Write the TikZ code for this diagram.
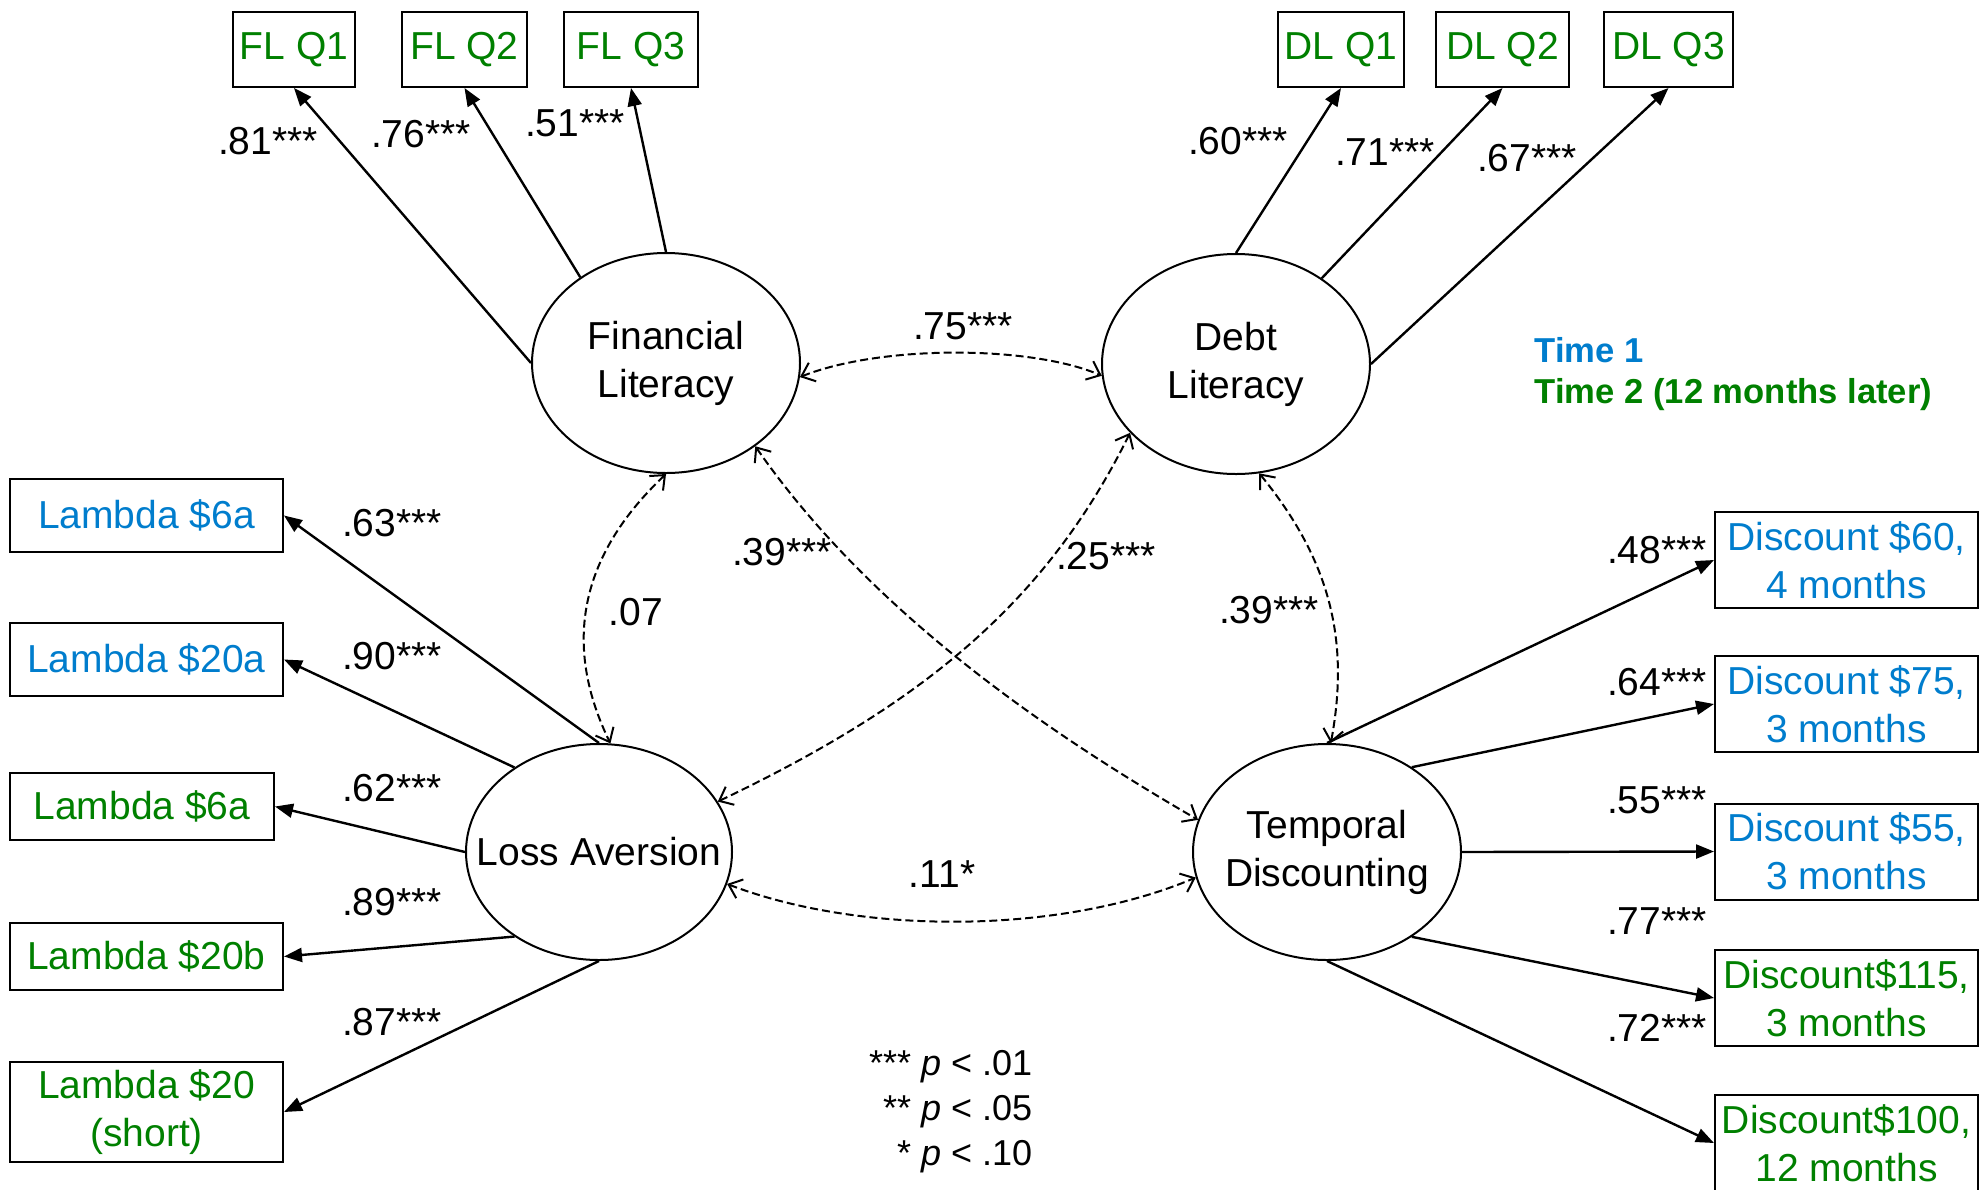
\documentclass[tikz,border=0pt]{standalone}
\usepackage{fontspec}
\setmainfont{Liberation Sans}
\usetikzlibrary{arrows.meta,shapes.geometric}

\definecolor{timeone}{RGB}{0,125,205}
\definecolor{timetwo}{RGB}{0,128,0}

\tikzset{every picture/.style={line width=0.75pt}}

\begin{document}
\begin{tikzpicture}[x=0.5pt,y=0.5pt,yscale=-1,xscale=1,
  font=\fontsize{19.5}{24}\selectfont,
  latent/.style={draw, ellipse, line width=1pt, inner sep=0pt, minimum width=134pt, minimum height=110pt},
  obs/.style={draw, rectangle, line width=1pt, inner sep=1pt, align=center},
  load/.style={line width=1.2pt, -{Triangle[length=9pt,width=7pt]}},
  cov/.style={line width=1pt, dash pattern=on 4pt off 2pt, {Straight Barb[length=6pt,width=10pt]}-{Straight Barb[length=6pt,width=10pt]}},
  coef/.style={inner sep=0pt},
  note/.style={font=\fontsize{17.3}{20.5}\selectfont, inner sep=0pt}]
\useasboundingbox (0,0) rectangle (1981,1189);

%Latent variables
\node[latent] (fl) at (666,363) {};
\node[align=center] (fl-txt) at (fl) {Financial\\Literacy};
\node[latent] (dl) at (1236,364) {};
\node[align=center] (dl-txt) at (dl) {Debt\\Literacy};
\node[latent, minimum width=133pt, minimum height=108pt] (la) at (599,852) {};
\node (la-txt) at (la) {Loss Aversion};
\node[latent, minimum height=108pt] (td) at (1327,852) {};
\node[align=center] (td-txt) at (td) {Temporal\\Discounting};

%Indicators, top
\node[obs, text=timetwo, minimum width=61pt, minimum height=37.5pt] (flq1) at (294,49.5) {FL Q1};
\node[obs, text=timetwo, minimum width=62.5pt, minimum height=37.5pt] (flq2) at (464.5,49.5) {FL Q2};
\node[obs, text=timetwo, minimum width=67pt, minimum height=37.5pt] (flq3) at (631,49.5) {FL Q3};
\node[obs, text=timetwo, minimum width=63pt, minimum height=37.5pt] (dlq1) at (1341,49.5) {DL Q1};
\node[obs, text=timetwo, minimum width=66.5pt, minimum height=37.5pt] (dlq2) at (1502.5,49.5) {DL Q2};
\node[obs, text=timetwo, minimum width=64.5pt, minimum height=37.5pt] (dlq3) at (1668.5,49.5) {DL Q3};

%Indicators, left
\node[obs, text=timeone, minimum width=136.5pt, minimum height=36.5pt] (lam1) at (146.5,515.5) {Lambda \$6a};
\node[obs, text=timeone, minimum width=136.5pt, minimum height=36.5pt] (lam2) at (146.5,659.5) {Lambda \$20a};
\node[obs, text=timetwo, minimum width=132pt, minimum height=33.5pt] (lam3) at (142,806.5) {Lambda \$6a};
\node[obs, text=timetwo, minimum width=136.5pt, minimum height=33.5pt] (lam4) at (146.5,956.5) {Lambda \$20b};
\node[obs, text=timetwo, minimum width=136.5pt, minimum height=50pt] (lam5) at (146.5,1112) {Lambda \$20\\(short)};

%Indicators, right
\node[obs, text=timeone, minimum width=131.5pt, minimum height=48pt] (disc1) at (1846.5,560) {Discount \$60,\\4 months};
\node[obs, text=timeone, minimum width=131.5pt, minimum height=48pt] (disc2) at (1846.5,704) {Discount \$75,\\3 months};
\node[obs, text=timeone, minimum width=131.5pt, minimum height=48pt] (disc3) at (1846.5,851.5) {Discount \$55,\\3 months};
\node[obs, text=timetwo, minimum width=131.5pt, minimum height=48pt] (disc4) at (1846.5,998) {Discount\$115,\\3 months};
\node[obs, text=timetwo, minimum width=131.5pt, minimum height=48pt] (disc5) at (1846.5,1143) {Discount\$100,\\12 months};

%Loadings
\draw[load] (fl.west) -- (flq1.south);
\draw[load] (fl.135) -- (flq2.south);
\draw[load] (fl.north) -- (flq3.south);
\draw[load] (dl.north) -- (dlq1.south);
\draw[load] (dl.45) -- (dlq2.south);
\draw[load] (dl.east) -- (dlq3.south);
\draw[load] (la.north) -- (lam1.east);
\draw[load] (la.135) -- (lam2.east);
\draw[load] (la.west) -- (lam3.east);
\draw[load] (la.225) -- (lam4.east);
\draw[load] (la.south) -- (lam5.east);
\draw[load] (td.north) -- (disc1.west);
\draw[load] (td.45) -- (disc2.west);
\draw[load] (td.east) -- (disc3.west);
\draw[load] (td.-45) -- (disc4.west);
\draw[load] (td.south) -- (disc5.west);

%Covariances
\draw[cov] (fl.-6) .. controls (880,345) and (1030,345) .. (dl.185);
\draw[cov] (fl.south) .. controls (575,560) and (565,650) .. (la.84);
\draw[cov] (fl.-43) .. controls (869,610) and (1043,730) .. (td.166);
\draw[cov] (dl.213) .. controls (1045,605) and (920,705) .. (la.23);
\draw[cov] (dl.-78) .. controls (1330,560) and (1350,640) .. (td.88);
\draw[cov] (la.-14) .. controls (860,935) and (1060,935) .. (td.191);

%Coefficients
\node[coef] (w-flq1) at (268,141) {.81***};
\node[coef] (w-flq2) at (421,134) {.76***};
\node[coef] (w-flq3) at (575,123) {.51***};
\node[coef] (w-dlq1) at (1238,141) {.60***};
\node[coef] (w-dlq2) at (1385,152) {.71***};
\node[coef] (w-dlq3) at (1527,158) {.67***};
\node[coef] (w-lam1) at (392,523) {.63***};
\node[coef] (w-lam2) at (392,656) {.90***};
\node[coef] (w-lam3) at (392,788) {.62***};
\node[coef] (w-lam4) at (392,902) {.89***};
\node[coef] (w-lam5) at (392,1022) {.87***};
\node[coef] (w-disc1) at (1657,550) {.48***};
\node[coef] (w-disc2) at (1657,682) {.64***};
\node[coef] (w-disc3) at (1657,800) {.55***};
\node[coef] (w-disc4) at (1657,921) {.77***};
\node[coef] (w-disc5) at (1657,1028) {.72***};
\node[coef] (c-fl-dl) at (963,326) {.75***};
\node[coef] (c-fl-la) at (636,612) {.07};
\node[coef] (c-fl-td) at (782,552) {.39***};
\node[coef] (c-dl-la) at (1106,556) {.25***};
\node[coef] (c-dl-td) at (1269,610) {.39***};
\node[coef] (c-la-td) at (942,874) {.11*};

%Legends
\node[note, text=timeone, anchor=base west, font=\fontsize{17.3}{20.5}\selectfont\bfseries] (time1) at (1534,362) {Time 1};
\node[note, text=timetwo, anchor=base west, font=\fontsize{17.3}{20.5}\selectfont\bfseries] (time2) at (1534,403) {Time 2 (12 months later)};
\node[note, anchor=base east, font=\fontsize{18}{22}\selectfont] (p1) at (1033,1075) {*** \textit{p} < .01};
\node[note, anchor=base east, font=\fontsize{18}{22}\selectfont] (p2) at (1033,1120) {** \textit{p} < .05};
\node[note, anchor=base east, font=\fontsize{18}{22}\selectfont] (p3) at (1033,1165) {* \textit{p} < .10};
\end{tikzpicture}
\end{document}
